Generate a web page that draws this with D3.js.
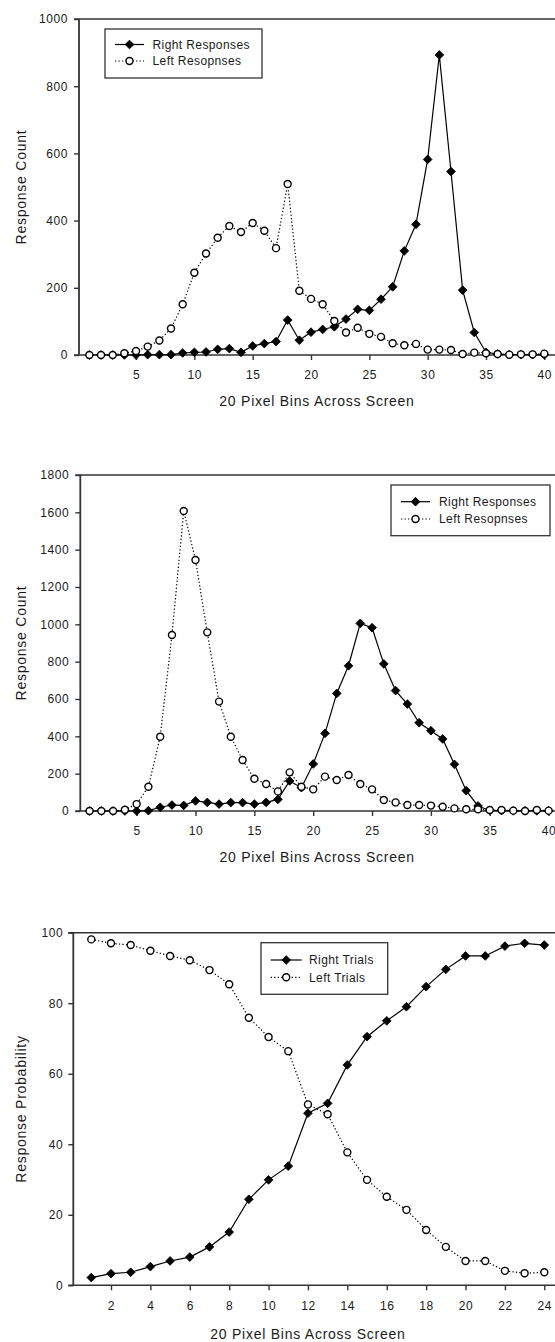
<!DOCTYPE html>
<html>
<head>
<meta charset="utf-8">
<script src="https://cdn.jsdelivr.net/npm/d3@7"></script>
<style>
  html, body { margin: 0; padding: 0; background: #fff; }
  svg { display: block; font-family: "Liberation Sans", Arial, sans-serif; }
</style>
</head>
<body>
<svg id="chart" width="555" height="1342"></svg>
<script>
// ---- data ---------------------------------------------------------------
const bins40 = d3.range(1, 41);
const bins24 = d3.range(1, 25);

// Panel 1: response counts per 20-pixel bin
const rightResponsesA = [0,0,0,0,0,1,1,1,6,8,9,17,19,8,27,34,40,104,44,68,76,84,107,136,133,166,203,310,389,582,893,546,193,67,8,3,1,1,1,1];
const leftResponsesA  = [0,0,0,5,12,25,43,79,151,245,302,349,384,366,393,370,318,509,191,167,151,101,67,81,63,54,35,29,33,16,16,15,3,7,5,3,1,2,2,4];

// Panel 2: response counts per 20-pixel bin
const rightResponsesB = [0,0,0,0,0,2,20,32,30,54,46,37,45,45,37,46,62,161,125,252,416,630,778,1005,982,788,645,573,473,430,386,250,109,27,3,2,1,1,1,1];
const leftResponsesB  = [0,0,0,7,37,130,398,943,1607,1345,957,586,398,273,173,145,105,207,130,116,184,166,193,145,116,59,46,32,32,29,23,14,9,9,5,5,2,0,5,2];

// Panel 3: response probability per 20-pixel bin
const rightTrials = [2.2,3.3,3.7,5.3,6.9,8.0,10.9,15.1,24.4,29.9,33.8,48.8,51.6,62.5,70.5,75.0,79.0,84.7,89.6,93.4,93.4,96.2,97.0,96.5];
const leftTrials  = [98.1,97.0,96.5,94.9,93.4,92.2,89.4,85.4,75.9,70.4,66.4,51.3,48.5,37.7,29.9,25.1,21.4,15.7,10.9,6.9,6.9,4.1,3.4,3.7];

// Tick values
const countTicksA = [0, 200, 400, 600, 800, 1000];
const countTicksB = [0, 200, 400, 600, 800, 1000, 1200, 1400, 1600, 1800];
const probTicks   = [0, 20, 40, 60, 80, 100];
const binTicks40  = [5, 10, 15, 20, 25, 30, 35, 40];
const binTicks24  = [2, 4, 6, 8, 10, 12, 14, 16, 18, 20, 22, 24];

// Labels
const xTitle = "20 Pixel Bins Across Screen";
const namesCount = ["Right Responses", "Left Resopnses"];
const namesProb  = ["Right Trials", "Left Trials"];

// ---- drawing ------------------------------------------------------------
const svg = d3.select("#chart");
const INK = "#1a1a1a";
const AXIS = "#333";
const W = 555;
const FONT = "'Liberation Sans', Arial, sans-serif";

const diamond = d3.symbol().type(d3.symbolSquare).size(38);
const circleR = 3.5;

function drawPanel(cfg) {
  const g = svg.append("g");
  const x = d3.scaleLinear().domain(cfg.xDomain).range([cfg.x0, cfg.x1]);
  const y = d3.scaleLinear().domain(cfg.yDomain).range([cfg.yBottom, cfg.yTop]);

  // frame: top edge, left axis, bottom axis
  g.append("line").attr("x1", cfg.axisX - 5).attr("x2", W)
    .attr("y1", cfg.yTop).attr("y2", cfg.yTop)
    .attr("stroke", AXIS).attr("stroke-width", 1.6);

  const yAxis = g.append("g")
    .attr("transform", `translate(${cfg.axisX},0)`)
    .call(d3.axisLeft(y).tickValues(cfg.yTicks).tickFormat(d3.format("d"))
      .tickSize(5).tickPadding(cfg.yPad));
  yAxis.select(".domain").remove();
  g.append("line").attr("x1", cfg.axisX).attr("x2", cfg.axisX)
    .attr("y1", cfg.yTop).attr("y2", cfg.yBottom)
    .attr("stroke", AXIS).attr("stroke-width", 1.8);

  const xAxis = g.append("g")
    .attr("transform", `translate(0,${cfg.yBottom})`)
    .call(d3.axisBottom(x).tickValues(cfg.xTicks).tickFormat(d3.format("d"))
      .tickSize(5).tickPadding(cfg.xPad));
  xAxis.select(".domain").remove();
  g.append("line").attr("x1", cfg.axisX - 5).attr("x2", W)
    .attr("y1", cfg.yBottom).attr("y2", cfg.yBottom)
    .attr("stroke", AXIS).attr("stroke-width", 1.6);

  [yAxis, xAxis].forEach(a => {
    a.attr("font-family", FONT);
    a.selectAll(".tick line").attr("stroke", AXIS).attr("stroke-width", 1.4);
    a.selectAll(".tick text")
      .attr("fill", INK).style("font-size", "12px").style("letter-spacing", "0.6px");
  });

  // axis titles
  g.append("text")
    .attr("x", (cfg.x0 + cfg.x1) / 2 + cfg.titleShift).attr("y", cfg.xTitleY)
    .attr("text-anchor", "middle").attr("fill", INK)
    .style("font-size", "14px").style("letter-spacing", "0.75px")
    .text(xTitle);
  g.append("text")
    .attr("transform", `translate(${cfg.yTitleX},${(cfg.yTop + cfg.yBottom) / 2}) rotate(-90)`)
    .attr("text-anchor", "middle").attr("fill", INK)
    .style("font-size", "14px").style("letter-spacing", "0.75px")
    .text(cfg.yTitle);

  const pts = (vals) => cfg.bins.map((b, i) => [b, vals[i]]);
  const line = d3.line().x(d => x(d[0])).y(d => y(d[1]));

  // solid series with filled diamonds
  g.append("path").datum(pts(cfg.right))
    .attr("d", line).attr("fill", "none")
    .attr("stroke", "#000").attr("stroke-width", 1.2);
  g.selectAll(".dia").data(pts(cfg.right)).join("path")
    .attr("class", "dia")
    .attr("d", diamond)
    .attr("transform", d => `translate(${x(d[0])},${y(d[1])}) rotate(45)`)
    .attr("fill", "#000").attr("stroke", "#000").attr("stroke-width", 0.8)
    .attr("stroke-linejoin", "round");

  // dotted series with open circles
  g.append("path").datum(pts(cfg.left))
    .attr("d", line).attr("fill", "none")
    .attr("stroke", "#000").attr("stroke-width", 1.2)
    .attr("stroke-dasharray", "1.3,2.2");
  g.selectAll(".circ").data(pts(cfg.left)).join("circle")
    .attr("class", "circ")
    .attr("cx", d => x(d[0])).attr("cy", d => y(d[1])).attr("r", circleR)
    .attr("fill", "#fff").attr("stroke", "#000").attr("stroke-width", 1.4);

  // legend
  const L = cfg.legend;
  const lg = g.append("g");
  lg.append("rect")
    .attr("x", L.x).attr("y", L.y).attr("width", L.w).attr("height", L.h)
    .attr("fill", "#fff").attr("stroke", AXIS).attr("stroke-width", 1.3);
  const rows = [
    { name: cfg.names[0], dash: null, y: L.row1 },
    { name: cfg.names[1], dash: "1.3,2.2", y: L.row2 }
  ];
  rows.forEach((r, i) => {
    lg.append("line")
      .attr("x1", L.sx0).attr("x2", L.sx1).attr("y1", r.y).attr("y2", r.y)
      .attr("stroke", "#000").attr("stroke-width", 1.2)
      .attr("stroke-dasharray", r.dash);
    const mx = (L.sx0 + L.sx1) / 2;
    if (i === 0) {
      lg.append("path").attr("d", diamond)
        .attr("transform", `translate(${mx},${r.y}) rotate(45)`)
        .attr("fill", "#000").attr("stroke", "#000").attr("stroke-width", 0.8);
    } else {
      lg.append("circle").attr("cx", mx).attr("cy", r.y).attr("r", circleR)
        .attr("fill", "#fff").attr("stroke", "#000").attr("stroke-width", 1.4);
    }
    lg.append("text")
      .attr("x", L.tx).attr("y", r.y).attr("dy", "0.35em")
      .attr("fill", INK).style("font-size", "12px").style("letter-spacing", "0.4px")
      .text(r.name);
  });
}

drawPanel({
  bins: bins40, right: rightResponsesA, left: leftResponsesA,
  xDomain: [0, 40], x0: 77.7, x1: 544.3,
  yDomain: [0, 1000], yTop: 19, yBottom: 355,
  axisX: 79, yTicks: countTicksA, xTicks: binTicks40,
  yPad: 6, xPad: 10,
  xTitleY: 406, titleShift: 6, yTitleX: 26, yTitle: "Response Count",
  names: namesCount,
  legend: { x: 105, y: 29, w: 157, h: 49, row1: 44.5, row2: 61, sx0: 115, sx1: 144, tx: 152.5 }
});

drawPanel({
  bins: bins40, right: rightResponsesB, left: leftResponsesB,
  xDomain: [0, 40], x0: 77.8, x1: 548.6,
  yDomain: [0, 1800], yTop: 475, yBottom: 811,
  axisX: 80.3, yTicks: countTicksB, xTicks: binTicks40,
  yPad: 6, xPad: 10.5,
  xTitleY: 862, titleShift: 4, yTitleX: 26, yTitle: "Response Count",
  names: namesCount,
  legend: { x: 391, y: 485, w: 159, h: 50.7, row1: 501.7, row2: 519, sx0: 401, sx1: 430, tx: 439 }
});

drawPanel({
  bins: bins24, right: rightTrials, left: leftTrials,
  xDomain: [0, 24], x0: 71.6, x1: 544.3,
  yDomain: [0, 100], yTop: 932.7, yBottom: 1285.3,
  axisX: 73.3, yTicks: probTicks, xTicks: binTicks24,
  yPad: 5, xPad: 11,
  xTitleY: 1339, titleShift: 0, yTitleX: 26, yTitle: "Response Probability",
  names: namesProb,
  legend: { x: 261, y: 942.7, w: 126.7, h: 51.6, row1: 960, row2: 977.3, sx0: 270.7, sx1: 301.7, tx: 309 }
});
</script>
</body>
</html>
